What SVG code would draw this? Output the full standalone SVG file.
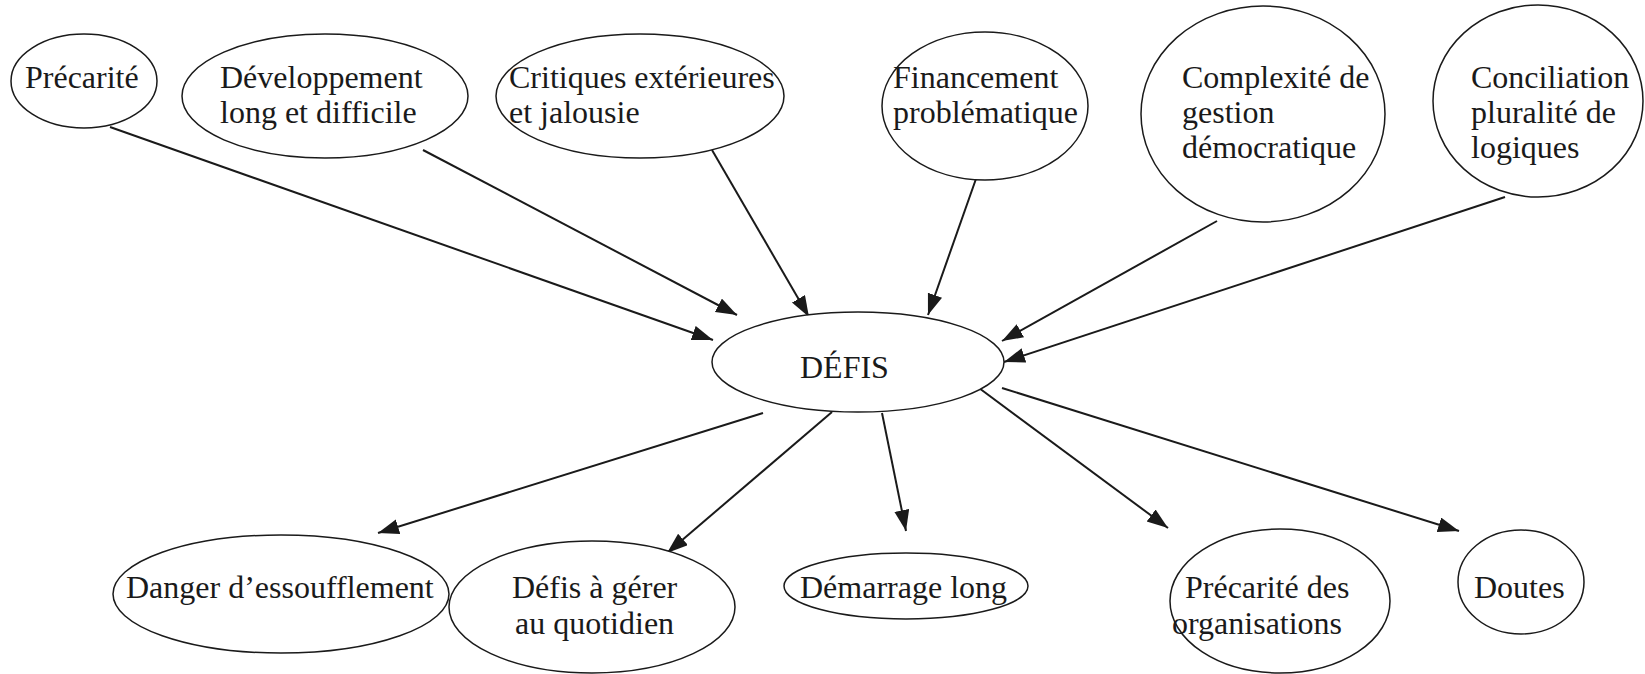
<svg xmlns="http://www.w3.org/2000/svg" width="1645" height="674" viewBox="0 0 1645 674">
<defs>
<style>
.n{fill:#fff;stroke:#1a1a1a;stroke-width:1.5}
.t{font-family:"Liberation Serif","Times New Roman",serif;font-size:32px;fill:#1a1a1a}
.c{stroke:#1a1a1a;stroke-width:2;fill:none;marker-end:url(#ah)}
</style>
<marker id="ah" markerUnits="userSpaceOnUse" markerWidth="22" markerHeight="16" refX="21" refY="7.5" orient="auto">
<path d="M0,0 L21,7.5 L0,15 z" fill="#1a1a1a"/>
</marker>
</defs>
<rect width="1645" height="674" fill="#fff"/>
<g id="connectors">
<line class="c" x1="110" y1="127" x2="713" y2="340"/>
<line class="c" x1="423" y1="150" x2="737" y2="315"/>
<line class="c" x1="712" y1="150" x2="809" y2="317"/>
<line class="c" x1="977" y1="176" x2="928" y2="315"/>
<line class="c" x1="1217" y1="221" x2="1002" y2="341"/>
<line class="c" x1="1505" y1="197" x2="1004" y2="362"/>
<line class="c" x1="763" y1="413" x2="378" y2="533"/>
<line class="c" x1="832" y1="412" x2="667" y2="553"/>
<line class="c" x1="882" y1="413" x2="906" y2="531"/>
<line class="c" x1="979" y1="388" x2="1168" y2="528"/>
<line class="c" x1="1002" y1="388" x2="1459" y2="531"/>
</g>
<g id="n-precarite">
<ellipse class="n" cx="84" cy="81" rx="73" ry="47"/>
<text class="t" x="25" y="88">Précarité</text>
</g>
<g id="n-developpement">
<ellipse class="n" cx="325" cy="96" rx="143" ry="62"/>
<text class="t" x="220" y="88">Développement</text>
<text class="t" x="220" y="123">long et difficile</text>
</g>
<g id="n-critiques">
<ellipse class="n" cx="640" cy="96" rx="144" ry="62"/>
<text class="t" x="509" y="88">Critiques extérieures</text>
<text class="t" x="509" y="123">et jalousie</text>
</g>
<g id="n-financement">
<ellipse class="n" cx="985" cy="106" rx="103" ry="74"/>
<text class="t" x="893" y="88">Financement</text>
<text class="t" x="893" y="123">problématique</text>
</g>
<g id="n-complexite">
<ellipse class="n" cx="1263" cy="114" rx="122" ry="108"/>
<text class="t" x="1182" y="88">Complexité de</text>
<text class="t" x="1182" y="123">gestion</text>
<text class="t" x="1182" y="158">démocratique</text>
</g>
<g id="n-conciliation">
<ellipse class="n" cx="1538" cy="101" rx="105" ry="96"/>
<text class="t" x="1471" y="88">Conciliation</text>
<text class="t" x="1471" y="123">pluralité de</text>
<text class="t" x="1471" y="158">logiques</text>
</g>
<g id="n-defis">
<ellipse class="n" cx="858" cy="362" rx="146" ry="50"/>
<text class="t" x="800" y="378">DÉFIS</text>
</g>
<g id="n-danger">
<ellipse class="n" cx="281" cy="594" rx="168" ry="59"/>
<text class="t" x="126" y="598">Danger d’essoufflement</text>
</g>
<g id="n-defis-quotidien">
<ellipse class="n" cx="592" cy="607" rx="143" ry="66"/>
<text class="t" x="512" y="598">Défis à gérer</text>
<text class="t" x="515" y="634">au quotidien</text>
</g>
<g id="n-demarrage">
<ellipse class="n" cx="906" cy="586" rx="122" ry="33"/>
<text class="t" x="800" y="598">Démarrage long</text>
</g>
<g id="n-precarite-org">
<ellipse class="n" cx="1280" cy="601" rx="110" ry="72"/>
<text class="t" x="1185" y="598">Précarité des</text>
<text class="t" x="1172" y="634">organisations</text>
</g>
<g id="n-doutes">
<ellipse class="n" cx="1521" cy="582" rx="63" ry="52"/>
<text class="t" x="1474" y="598">Doutes</text>
</g>
</svg>
